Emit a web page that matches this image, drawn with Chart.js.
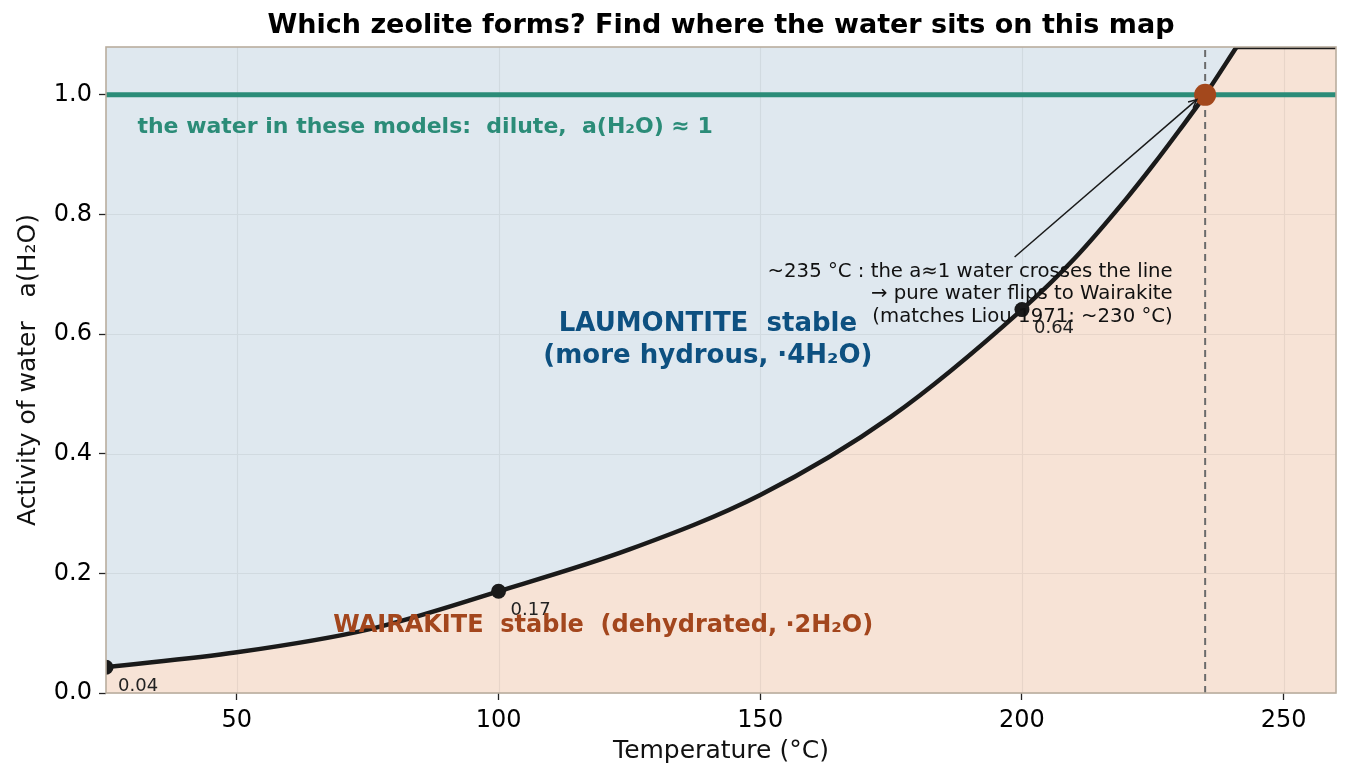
<!DOCTYPE html>
<html>
<head>
<meta charset="utf-8">
<script src="https://cdn.jsdelivr.net/npm/chart.js@4.4.1/dist/chart.umd.min.js"></script>
<style>
  html, body { margin: 0; padding: 0; background: #ffffff; }
  #wrap { width: 1351px; height: 779px; position: relative; }
</style>
</head>
<body>
<div id="wrap"><canvas id="chart"></canvas></div>
<script>
'use strict';

// boundary line (deg C -> a(H2O))
var temps = [25, 50, 75, 100, 125, 150, 175, 200, 210, 220, 225, 230, 235, 241];
var activity = [0.043, 0.068, 0.106, 0.170, 0.240, 0.331, 0.462, 0.641, 0.726, 0.827, 0.882, 0.940, 1.0, 1.08];

// the line runs along the top of the frame once it leaves the plot
var capTemps = [241, 260];
var capActivity = [1.08, 1.08];

// dilute water, a = 1
var waterTemps = [25, 260];
var waterActivity = [1, 1];

// labelled points on the boundary
var markTemps = [25, 100, 200];
var markActivity = [0.043, 0.170, 0.641];

// where pure water crosses
var crossTemps = [235];
var crossActivity = [1.0];

var xTicks = [50, 100, 150, 200, 250];
var yTicks = [0, 0.2, 0.4, 0.6, 0.8, 1.0];

var FONT = "'DejaVu Sans', 'Liberation Sans', sans-serif";
var LAU_BLUE = '#0d5080';
var WAI_BROWN = '#a3461d';
var TEAL = '#2b8c78';
var INK = '#1a1a1a';
var LAU_FIELD = '#dfe8ef';
var WAI_FIELD = '#f7e3d6';

function pts(xs, ys) {
    return xs.map(function(x, i) {
        return { x: x, y: ys[i] };
    });
}

function arrowHead(ctx, x0, y0, x1, y1, len) {
    var ang = Math.atan2(y1 - y0, x1 - x0);
    ctx.beginPath();
    ctx.moveTo(x1 - len * Math.cos(ang - 0.45), y1 - len * Math.sin(ang - 0.45));
    ctx.lineTo(x1, y1);
    ctx.lineTo(x1 - len * Math.cos(ang + 0.45), y1 - len * Math.sin(ang + 0.45));
    ctx.stroke();
}

var decor = {
    id: 'decor',
    beforeDraw: function(chart) {
        var ctx = chart.ctx;
        var a = chart.chartArea;
        ctx.save();
        ctx.fillStyle = '#ffffff';
        ctx.fillRect(0, 0, chart.width, chart.height);
        // wairakite everywhere, laumontite gets filled above the line
        ctx.fillStyle = WAI_FIELD;
        ctx.fillRect(a.left, a.top, a.right - a.left, a.bottom - a.top);
        ctx.restore();
    },
    beforeDatasetsDraw: function(chart) {
        // grid goes over the fields but under the lines
        var ctx = chart.ctx;
        var a = chart.chartArea;
        var xs = chart.scales.x;
        var ys = chart.scales.y;
        ctx.save();
        ctx.strokeStyle = 'rgba(0,0,0,0.06)';
        ctx.lineWidth = 1.2;
        ctx.beginPath();
        xTicks.forEach(function(v) {
            var px = Math.round(xs.getPixelForValue(v)) + 0.5;
            ctx.moveTo(px, a.top);
            ctx.lineTo(px, a.bottom);
        });
        yTicks.forEach(function(v) {
            var py = Math.round(ys.getPixelForValue(v)) + 0.5;
            ctx.moveTo(a.left, py);
            ctx.lineTo(a.right, py);
        });
        ctx.stroke();
        ctx.restore();
    },
    afterDatasetsDraw: function(chart) {
        var ctx = chart.ctx;
        var xs = chart.scales.x;
        var ys = chart.scales.y;
        var i;
        ctx.save();

        // labels next to the boundary points
        ctx.font = '18px ' + FONT;
        ctx.fillStyle = '#222222';
        ctx.textAlign = 'left';
        ctx.textBaseline = 'middle';
        for (i = 0; i < markTemps.length; i++) {
            ctx.fillText(markActivity[i].toFixed(2),
                xs.getPixelForValue(markTemps[i]) + 12,
                ys.getPixelForValue(markActivity[i]) + 19);
        }

        // dilute water note
        ctx.font = 'bold 22px ' + FONT;
        ctx.fillStyle = TEAL;
        ctx.fillText('the water in these models:  dilute,  a(H\u2082O) \u2248 1',
            xs.getPixelForValue(31), ys.getPixelForValue(0.945));

        // field names
        ctx.textAlign = 'center';
        ctx.font = 'bold 26px ' + FONT;
        ctx.fillStyle = LAU_BLUE;
        ctx.fillText('LAUMONTITE  stable', xs.getPixelForValue(140), ys.getPixelForValue(0.617));
        ctx.fillText('(more hydrous, \u00b74H\u2082O)', xs.getPixelForValue(140), ys.getPixelForValue(0.5635));
        ctx.font = 'bold 24px ' + FONT;
        ctx.fillStyle = WAI_BROWN;
        ctx.fillText('WAIRAKITE  stable  (dehydrated, \u00b72H\u2082O)', xs.getPixelForValue(120), ys.getPixelForValue(0.112));

        // crossing note + arrow
        var x0 = xs.getPixelForValue(198.6), y0 = ys.getPixelForValue(0.729);
        var x1 = xs.getPixelForValue(233.4), y1 = ys.getPixelForValue(0.992);
        ctx.strokeStyle = INK;
        ctx.lineWidth = 1.5;
        ctx.beginPath();
        ctx.moveTo(x0, y0);
        ctx.lineTo(x1, y1);
        ctx.stroke();
        arrowHead(ctx, x0, y0, x1, y1, 9);

        ctx.font = '19.7px ' + FONT;
        ctx.fillStyle = '#111111';
        ctx.textAlign = 'right';
        var noteX = xs.getPixelForValue(228.8);
        ctx.fillText('~235 \u00b0C : the a\u22481 water crosses the line', noteX, ys.getPixelForValue(0.704));
        ctx.fillText('\u2192 pure water flips to Wairakite', noteX, ys.getPixelForValue(0.667));
        ctx.fillText('(matches Liou 1971: ~230 \u00b0C)', noteX, ys.getPixelForValue(0.629));
        ctx.restore();
    },
    afterDraw: function(chart) {
        var ctx = chart.ctx;
        var a = chart.chartArea;
        ctx.save();
        // frame
        ctx.strokeStyle = '#b9ad9e';
        ctx.lineWidth = 1.6;
        ctx.strokeRect(a.left, a.top, a.right - a.left, a.bottom - a.top);

        // title
        ctx.fillStyle = '#000000';
        ctx.textAlign = 'center';
        ctx.textBaseline = 'middle';
        ctx.font = 'bold 27px ' + FONT;
        ctx.fillText('Which zeolite forms? Find where the water sits on this map', (a.left + a.right) / 2, 26);

        // axis titles
        ctx.font = '25px ' + FONT;
        ctx.fillStyle = '#111111';
        ctx.fillText('Temperature (\u00b0C)', (a.left + a.right) / 2, 751);
        ctx.translate(28, (a.top + a.bottom) / 2);
        ctx.rotate(-Math.PI / 2);
        ctx.fillText('Activity of water   a(H\u2082O)', 0, 0);
        ctx.restore();
    }
};

var ctx = document.getElementById('chart').getContext('2d');

new Chart(ctx, {
    type: 'line',
    data: {
        datasets: [{
            // crossing point
            data: pts(crossTemps, crossActivity),
            showLine: false,
            pointRadius: 11,
            pointBackgroundColor: '#a3481c',
            pointBorderWidth: 0
        }, {
            // boundary markers
            data: pts(markTemps, markActivity),
            showLine: false,
            pointRadius: 7.5,
            pointBackgroundColor: INK,
            pointBorderWidth: 0
        }, {
            // boundary line, laumontite field above it
            data: pts(temps, activity),
            borderColor: INK,
            borderWidth: 4.5,
            pointRadius: 0,
            cubicInterpolationMode: 'monotone',
            fill: 'end',
            backgroundColor: LAU_FIELD
        }, {
            data: pts(capTemps, capActivity),
            borderColor: INK,
            borderWidth: 4.5,
            pointRadius: 0
        }, {
            data: pts(waterTemps, waterActivity),
            borderColor: TEAL,
            borderWidth: 5,
            pointRadius: 0
        }, {
            data: pts([crossTemps[0], crossTemps[0]], [0, 1.08]),
            borderColor: '#6b6b6b',
            borderWidth: 2,
            borderDash: [7, 5],
            pointRadius: 0
        }]
    },
    options: {
        responsive: true,
        maintainAspectRatio: false,
        animation: false,
        events: [],
        layout: { padding: { top: 47, right: 15, left: 0, bottom: 0 } },
        plugins: {
            legend: { display: false },
            tooltip: { enabled: false },
            filler: { drawTime: 'beforeDatasetsDraw' }
        },
        scales: {
            x: {
                type: 'linear',
                min: 25,
                max: 260,
                afterBuildTicks: function(s) {
                    s.ticks = xTicks.map(function(v) { return { value: v }; });
                },
                afterFit: function(s) { s.height = 86; },
                grid: {
                    drawOnChartArea: false,
                    tickColor: '#222222',
                    tickLength: 7,
                    tickWidth: 1.3
                },
                border: { display: false },
                ticks: {
                    color: '#000000',
                    padding: 6,
                    font: { family: FONT, size: 24 },
                    callback: function(v) { return String(v); }
                }
            },
            y: {
                min: 0,
                max: 1.08,
                afterBuildTicks: function(s) {
                    s.ticks = yTicks.map(function(v) { return { value: v }; });
                },
                afterFit: function(s) { s.width = 106; },
                grid: {
                    drawOnChartArea: false,
                    tickColor: '#222222',
                    tickLength: 7,
                    tickWidth: 1.3
                },
                border: { display: false },
                ticks: {
                    color: '#000000',
                    padding: 7,
                    font: { family: FONT, size: 24 },
                    callback: function(v) { return Number(v).toFixed(1); }
                }
            }
        }
    },
    plugins: [decor]
});
</script>
</body>
</html>
